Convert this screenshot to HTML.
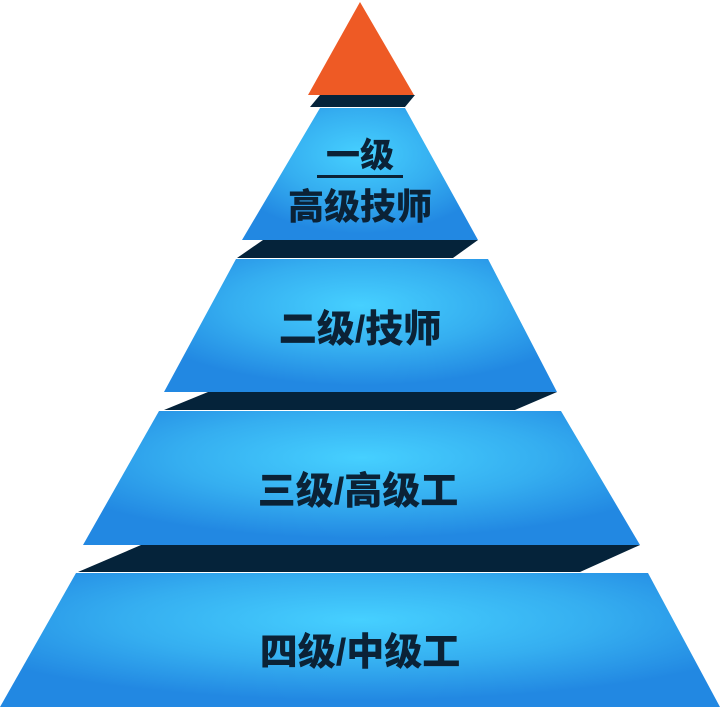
<!DOCTYPE html>
<html><head><meta charset="utf-8"><style>
html,body{margin:0;padding:0;background:#fff;}
svg{display:block;}
text{font-family:"Liberation Sans","Noto Sans CJK SC",sans-serif;font-weight:900;fill:#0b2236;text-anchor:middle;}
</style></head><body>
<svg width="720" height="707" viewBox="0 0 720 707" xmlns="http://www.w3.org/2000/svg">
<defs>
<radialGradient id="g" cx="50%" cy="35%" r="60%">
<stop offset="0" stop-color="#46d0ff"/>
<stop offset="0.55" stop-color="#35aef0"/>
<stop offset="1" stop-color="#2288e2"/>
</radialGradient>
</defs>
<polygon points="360,2 308,95 414,95" fill="#ee5a25"/>
<polygon points="320,95 415,95 405,107 310,107" fill="#05233a"/>
<polygon points="320,108 405,108 478,240 242,240" fill="url(#g)"/>
<polygon points="263,240 478,240 453,258 237,258" fill="#05233a"/>
<polygon points="236,259 488,259 557,392 164,392" fill="url(#g)"/>
<polygon points="208,392 557,392 515,410 164,410" fill="#05233a"/>
<polygon points="159,411 561,411 640,545 83,545" fill="url(#g)"/>
<polygon points="141,545 640,545 580,572 78,572" fill="#05233a"/>
<polygon points="76,573 648,573 720,707 0,707" fill="url(#g)"/>
<text x="360" y="167" font-size="34">一级</text>
<rect x="317" y="175" width="86" height="3" fill="#0b2236"/>
<text x="360" y="219" font-size="36">高级技师</text>
<text x="360" y="342" font-size="38">二级/技师</text>
<text x="358" y="504" font-size="38">三级/高级工</text>
<text x="360" y="665" font-size="38">四级/中级工</text>
</svg>
</body></html>
